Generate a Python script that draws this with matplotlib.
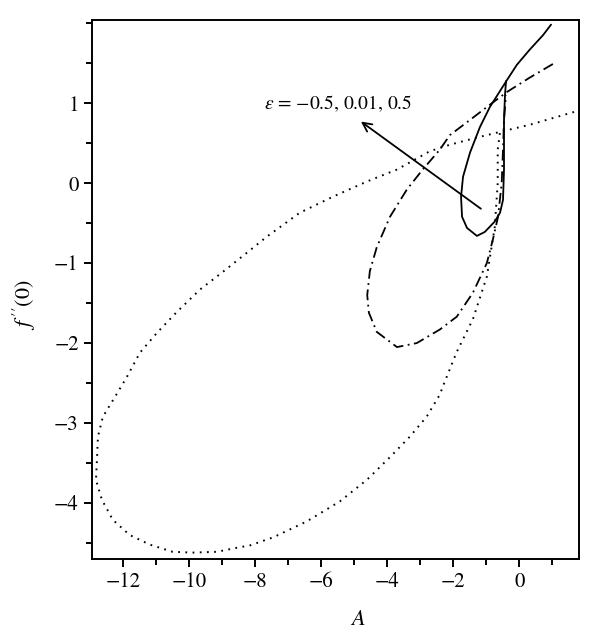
import matplotlib
matplotlib.use("Agg")
import matplotlib.pyplot as plt
from matplotlib.ticker import MultipleLocator

plt.rcParams['font.family'] = ['STIXGeneral', 'DejaVu Serif']
plt.rcParams['mathtext.fontset'] = 'stix'

# eps = -0.5 (solid)
A_solid = [0.96, 0.72, 0.32, -0.07, -0.40, -0.89, -1.19, -1.49, -1.70, -1.76, -1.73,
           -1.58, -1.28, -1.04, -0.74, -0.58, -0.49, -0.46, -0.46, -0.43, -0.40]
f_solid = [1.98, 1.85, 1.67, 1.48, 1.27, 0.95, 0.70, 0.38, 0.08, -0.17, -0.42,
           -0.56, -0.66, -0.61, -0.48, -0.37, -0.21, 0.17, 0.79, 1.10, 1.27]

# eps = 0.01 (dash-dot)
A_dd = [1.02, 0.32, -0.37, -0.89, -1.49, -2.10, -2.40, -2.92, -3.40, -3.91, -4.31,
        -4.52, -4.60, -4.55, -4.31, -3.70, -3.10, -2.40, -1.89, -1.40, -0.98, -0.80, -0.64,
        -0.53, -0.49, -0.46, -0.40]
f_dd = [1.49, 1.32, 1.14, 0.98, 0.79, 0.60, 0.42, 0.17, -0.08, -0.42, -0.80,
        -1.10, -1.40, -1.62, -1.86, -2.05, -2.00, -1.83, -1.67, -1.37, -1.00, -0.71, -0.42,
        0.00, 0.42, 0.79, 1.10]

# eps = 0.5 (dotted)
A_dot = [1.66, 0.32, -0.49, -1.28, -2.10, -2.70, -3.70, -4.61, -5.64, -6.64, -7.64,
         -8.15, -8.97, -9.66, -10.36, -10.96, -11.48, -11.87, -12.23, -12.60, -12.75,
         -12.78, -12.81, -12.63, -12.30, -11.79, -11.18, -10.49, -9.88, -9.15, -8.55,
         -8.15, -7.45, -6.43, -5.43, -4.61, -3.92, -3.31, -2.80, -2.41, -2.25, -1.89,
         -1.40, -0.98, -0.74, -0.65, -0.65, -0.58]
f_dot = [0.89, 0.73, 0.65, 0.57, 0.48, 0.40, 0.17, 0.02, -0.17, -0.37, -0.67,
         -0.84, -1.11, -1.33, -1.61, -1.87, -2.12, -2.42, -2.67, -2.92, -3.17,
         -3.46, -3.71, -3.96, -4.21, -4.40, -4.52, -4.61, -4.62, -4.61, -4.56,
         -4.53, -4.43, -4.23, -3.98, -3.71, -3.43, -3.17, -2.92, -2.65, -2.48, -2.11,
         -1.70, -1.17, -0.55, 0.00, 0.42, 0.64]

label_text = r"$\varepsilon$ = −0.5, 0.01, 0.5"
arrow_tail = (-1.16, -0.32)
arrow_head = (-4.79, 0.77)

fig = plt.figure(figsize=(6.0, 6.44), dpi=100)
ax = fig.add_axes([92/600, 85/644, 487/600, 539/644])

ax.plot(A_solid, f_solid, color='black', lw=1.3, ls='-')
ax.plot(A_dd, f_dd, color='black', lw=1.3, ls=(0, (6, 2.5, 1, 2.5)))
ax.plot(A_dot, f_dot, color='black', lw=1.4, ls=(0, (0.9, 2.8)))

ax.annotate('', xy=arrow_head, xytext=arrow_tail,
            arrowprops=dict(arrowstyle='->', color='black', lw=1.3,
                            mutation_scale=16, shrinkA=0, shrinkB=0))
ax.text(-5.49, 0.99, label_text, ha='center', va='center', fontsize=14)

ax.set_xlim(-12.93, 1.81)
ax.set_ylim(-4.70, 2.04)
ax.xaxis.set_minor_locator(MultipleLocator(1))
ax.yaxis.set_minor_locator(MultipleLocator(0.5))
ax.tick_params(which='major', direction='out', length=6, width=1.4, labelsize=15)
ax.tick_params(which='minor', direction='out', length=4, width=1.4)
ax.tick_params(top=False, right=False)
for s in ax.spines.values():
    s.set_linewidth(1.4)

ax.set_xticks(range(-12, 1, 2))
ax.set_xticklabels(['−12', '−10', '−8', '−6', '−4', '−2', '0'])
ax.set_yticks(range(-4, 2))
ax.set_yticklabels(['−4', '−3', '−2', '−1', '0', '1'])

ax.set_xlabel(r"$A$", fontsize=16)
ax.set_ylabel(r"$f^{\,\prime\prime}(0)$", fontsize=16)
ax.xaxis.set_label_coords((358 - 92) / 487, -0.095)
ax.yaxis.set_label_coords(-0.11, (559 - 305) / 539)

fig.savefig('out.png', dpi=100)
